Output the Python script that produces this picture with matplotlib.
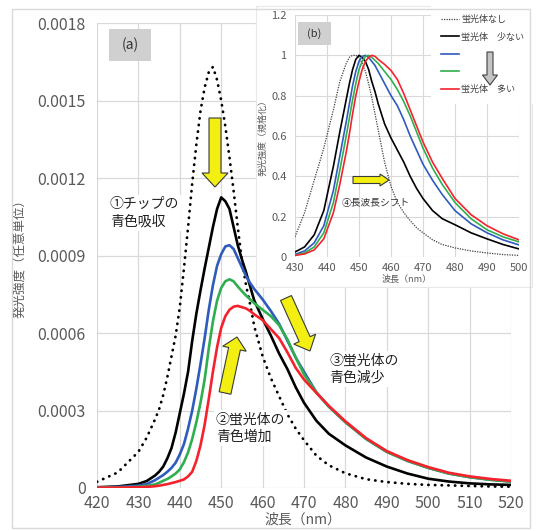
"""
Blue emission spectra vs phosphor amount: absolute (a) and normalized (b) inset.
"""

import matplotlib
matplotlib.use("Agg")
import matplotlib.pyplot as plt
import numpy as np
from matplotlib.patches import Polygon, Rectangle

plt.rcParams["font.family"] = ["Noto Sans CJK JP", "DejaVu Sans"]

W, H = 536, 531

# ---- panel (a): absolute intensity (x 1e-3) ----
wl_a = [420, 425, 430, 432, 434, 435, 436, 437, 438, 439, 440, 441, 442, 443,
        444, 445, 446, 447, 448, 449, 450, 451, 452, 453, 454, 455, 456, 457,
        458, 460, 462, 464, 466, 468, 470, 473, 476, 480, 485, 490, 495, 500,
        505, 510, 515, 520]

none_a = [0.024, 0.060, 0.140, 0.195, 0.265, 0.305, 0.360, 0.430, 0.510, 0.590,
          0.700, 0.850, 1.010, 1.180, 1.330, 1.460, 1.550, 1.610, 1.630, 1.580,
          1.500, 1.400, 1.280, 1.150, 1.010, 0.880, 0.785, 0.710, 0.625, 0.510,
          0.425, 0.355, 0.285, 0.230, 0.185, 0.125, 0.088, 0.057, 0.034, 0.023,
          0.016, 0.012, 0.010, 0.008, 0.006, 0.005]

low_a = [0.003, 0.006, 0.016, 0.027, 0.048, 0.063, 0.083, 0.115, 0.155, 0.215,
         0.290, 0.365, 0.450, 0.570, 0.675, 0.765, 0.850, 0.930, 1.010, 1.080,
         1.125, 1.110, 1.080, 1.010, 0.940, 0.885, 0.835, 0.780, 0.725, 0.655,
         0.590, 0.520, 0.460, 0.390, 0.330, 0.260, 0.210, 0.165, 0.118, 0.083,
         0.056, 0.036, 0.025, 0.018, 0.014, 0.012]

mid1_a = [0.002, 0.004, 0.009, 0.015, 0.030, 0.040, 0.050, 0.063, 0.078, 0.098,
          0.130, 0.170, 0.230, 0.300, 0.385, 0.480, 0.580, 0.690, 0.785, 0.860,
          0.905, 0.935, 0.940, 0.925, 0.890, 0.855, 0.820, 0.793, 0.770, 0.730,
          0.685, 0.635, 0.570, 0.505, 0.450, 0.370, 0.315, 0.255, 0.190, 0.140,
          0.105, 0.078, 0.056, 0.042, 0.032, 0.025]

mid2_a = [0.001, 0.002, 0.005, 0.008, 0.014, 0.020, 0.028, 0.035, 0.045, 0.056,
          0.072, 0.100, 0.138, 0.190, 0.255, 0.330, 0.420, 0.540, 0.645, 0.725,
          0.775, 0.800, 0.808, 0.800, 0.780, 0.762, 0.745, 0.730, 0.715, 0.690,
          0.665, 0.630, 0.575, 0.505, 0.440, 0.370, 0.315, 0.255, 0.190, 0.140,
          0.105, 0.078, 0.056, 0.042, 0.032, 0.025]

high_a = [0.001, 0.0015, 0.003, 0.004, 0.007, 0.009, 0.012, 0.015, 0.019, 0.023,
          0.028, 0.033, 0.045, 0.063, 0.105, 0.165, 0.245, 0.345, 0.450, 0.545,
          0.620, 0.665, 0.690, 0.702, 0.705, 0.700, 0.695, 0.685, 0.672, 0.650,
          0.615, 0.580, 0.525, 0.465, 0.420, 0.368, 0.318, 0.258, 0.193, 0.143,
          0.108, 0.081, 0.059, 0.045, 0.035, 0.028]

yticks_a = [0, 0.0003, 0.0006, 0.0009, 0.0012, 0.0015, 0.0018]
ylabels_a = ["0", "0.0003", "0.0006", "0.0009", "0.0012", "0.0015", "0.0018"]

# ---- panel (b): normalized ----
wl_b = [430, 433, 436, 439, 442, 444, 446, 447, 448, 449, 450, 451, 452, 453,
        454, 455, 456, 458, 460, 462, 464, 466, 468, 470, 473, 476, 480, 485,
        490, 495, 500]

none_b = [0.10, 0.22, 0.38, 0.54, 0.73, 0.87, 0.96, 0.99, 1.0, 1.0, 0.99, 0.96,
          0.92, 0.86, 0.79, 0.71, 0.63, 0.47, 0.35, 0.27, 0.22, 0.18, 0.145,
          0.12, 0.085, 0.062, 0.045, 0.03, 0.02, 0.012, 0.008]

low_b = [0.025, 0.05, 0.11, 0.23, 0.45, 0.62, 0.78, 0.86, 0.93, 0.98, 1.0, 0.99,
         0.97, 0.93, 0.87, 0.82, 0.76, 0.66, 0.59, 0.53, 0.47, 0.40, 0.34,
         0.29, 0.23, 0.19, 0.16, 0.12, 0.09, 0.062, 0.04]

mid1_b = [0.013, 0.03, 0.07, 0.155, 0.33, 0.50, 0.67, 0.76, 0.85, 0.92, 0.97,
          0.995, 1.0, 0.99, 0.97, 0.95, 0.92, 0.86, 0.80, 0.75, 0.68, 0.60,
          0.53, 0.46, 0.38, 0.31, 0.23, 0.165, 0.12, 0.085, 0.06]

mid2_b = [0.01, 0.02, 0.05, 0.12, 0.27, 0.43, 0.60, 0.69, 0.78, 0.86, 0.93,
          0.97, 0.995, 1.0, 0.99, 0.975, 0.96, 0.92, 0.88, 0.83, 0.77, 0.70,
          0.62, 0.54, 0.44, 0.36, 0.27, 0.19, 0.135, 0.10, 0.075]

high_b = [0.008, 0.015, 0.035, 0.09, 0.22, 0.36, 0.52, 0.61, 0.71, 0.80, 0.87,
          0.93, 0.97, 0.99, 1.0, 0.995, 0.98, 0.955, 0.925, 0.88, 0.81, 0.73,
          0.65, 0.57, 0.47, 0.39, 0.29, 0.21, 0.155, 0.115, 0.085]

legend_labels = ["蛍光体なし", "蛍光体　少ない", " ", " ", "蛍光体　多い"]

C_BLUE = "#2f5bbd"
C_GREEN = "#2fae4f"
C_RED = "#f5222d"
GRID = "#d9d9d9"
TXT = "#595959"


def fx(x):
    return x / W


def fy(y):
    return 1 - y / H


def arrow(fig, x0, y0, x1, y1, w, hw, hl, fc, ec="#3a3a3a"):
    """Block arrow drawn from pixel coords (origin top-left)."""
    dx, dy = x1 - x0, y1 - y0
    L = np.hypot(dx, dy)
    ux, uy = dx / L, dy / L
    nx, ny = -uy, ux
    bx, by = x1 - ux * hl, y1 - uy * hl
    pts = [
        (x0 + nx * w / 2, y0 + ny * w / 2),
        (bx + nx * w / 2, by + ny * w / 2),
        (bx + nx * hw / 2, by + ny * hw / 2),
        (x1, y1),
        (bx - nx * hw / 2, by - ny * hw / 2),
        (bx - nx * w / 2, by - ny * w / 2),
        (x0 - nx * w / 2, y0 - ny * w / 2),
    ]
    pts = [(fx(px), fy(py)) for px, py in pts]
    fig.patches.append(Polygon(pts, closed=True, facecolor=fc, edgecolor=ec,
                               lw=0.8, transform=fig.transFigure, zorder=4))


fig = plt.figure(figsize=(W / 100, H / 100), dpi=100)

# main axes
ax = fig.add_axes([fx(97), fy(488), (511 - 97) / W, (488 - 23) / H], zorder=0)
scale = 1e-3
ax.plot(wl_a, np.array(none_a) * scale, color="black", lw=2.0,
        linestyle=(0, (0.1, 2.3)), dash_capstyle="round")
ax.plot(wl_a, np.array(low_a) * scale, color="black", lw=1.9)
ax.plot(wl_a, np.array(mid1_a) * scale, color=C_BLUE, lw=1.9)
ax.plot(wl_a, np.array(mid2_a) * scale, color=C_GREEN, lw=1.9)
ax.plot(wl_a, np.array(high_a) * scale, color=C_RED, lw=1.9)
ax.set_xlim(420, 520)
ax.set_ylim(0, 0.0018)
ax.set_xticks(range(420, 521, 10))
ax.set_yticks(yticks_a)
ax.set_yticklabels(ylabels_a)
ax.grid(True, color=GRID, lw=0.9)
ax.set_axisbelow(True)
for s in ax.spines.values():
    s.set_visible(False)
ax.tick_params(length=0, labelsize=11.5, colors=TXT)
ax.tick_params(axis="y", pad=8)
ax.tick_params(axis="x", pad=5)

fig.text(fx(21), fy(255), "発光強度（任意単位）", rotation=90, ha="center",
         va="center", fontsize=9, color=TXT)
fig.text(fx(303), fy(520), "波長（nm）", ha="center", va="center",
         fontsize=10, color=TXT)

# panel tag (a)
fig.patches.append(Rectangle((fx(109), fy(61)), 42 / W, 32 / H, facecolor="#d0d0d0",
                             edgecolor="none", transform=fig.transFigure, zorder=1))
fig.text(fx(130), fy(45), "(a)", ha="center", va="center", fontsize=10,
         color="#333333", zorder=2)

box = dict(facecolor="white", edgecolor="none", pad=1.5)
ax.text(fx(110), fy(213), "①チップの\n青色吸収", transform=fig.transFigure,
        ha="left", va="center", fontsize=10, color="#222222", linespacing=1.35,
        bbox=box, zorder=5)
ax.text(fx(216), fy(428), "②蛍光体の\n青色増加", transform=fig.transFigure,
        ha="left", va="center", fontsize=10, color="#222222", linespacing=1.35,
        bbox=box, zorder=5)
ax.text(fx(329), fy(369), "③蛍光体の\n青色減少", transform=fig.transFigure,
        ha="left", va="center", fontsize=10, color="#222222", linespacing=1.35,
        bbox=box, zorder=5)

# white backing of the inset
fig.patches.append(Rectangle((fx(256), fy(287)), (532 - 256) / W, (287 - 6) / H,
                             facecolor="white", edgecolor="#e8e8e8", lw=0.8,
                             transform=fig.transFigure, zorder=1))

# inset axes
axi = fig.add_axes([fx(295), fy(257), (519 - 295) / W, (257 - 15) / H], zorder=2)
l0, = axi.plot(wl_b, none_b, color="#404040", lw=0.9, linestyle=(0, (1, 1)))
l1, = axi.plot(wl_b, low_b, color="black", lw=1.2)
l2, = axi.plot(wl_b, mid1_b, color=C_BLUE, lw=1.2)
l3, = axi.plot(wl_b, mid2_b, color=C_GREEN, lw=1.2)
l4, = axi.plot(wl_b, high_b, color=C_RED, lw=1.2)
axi.set_xlim(430, 500)
axi.set_ylim(0, 1.2)
axi.set_xticks(range(430, 501, 10))
axi.set_yticks([0, 0.2, 0.4, 0.6, 0.8, 1.0, 1.2])
axi.set_yticklabels(["0", "0.2", "0.4", "0.6", "0.8", "1", "1.2"])
axi.grid(True, color=GRID, lw=0.8)
axi.set_axisbelow(True)
for s in axi.spines.values():
    s.set_visible(False)
axi.tick_params(length=0, labelsize=8, colors=TXT)
axi.tick_params(axis="y", pad=6)
axi.tick_params(axis="x", pad=4)

leg = axi.legend([l0, l1, l2, l3, l4], legend_labels, loc="upper left",
                 bbox_to_anchor=(fx(437), fy(11)), bbox_transform=fig.transFigure,
                 fontsize=6.5, frameon=True, fancybox=False, framealpha=1,
                 edgecolor="none", handlelength=2.0, handletextpad=0.28,
                 labelspacing=0.92, borderpad=0.43, borderaxespad=0)
leg.get_frame().set_boxstyle("square", pad=0.7)
for t in leg.get_texts():
    t.set_color("#404040")

fig.text(fx(263), fy(136), "発光強度（規格化）", rotation=90, ha="center",
         va="center", fontsize=6.5, color=TXT, zorder=3)
fig.text(fx(407), fy(279), "波長（nm）", ha="center", va="center",
         fontsize=6.5, color=TXT, zorder=3)

fig.patches.append(Rectangle((fx(298), fy(45)), 33 / W, 23 / H, facecolor="#d0d0d0",
                             edgecolor="none", transform=fig.transFigure, zorder=3))
fig.text(fx(314.5), fy(33.5), "(b)", ha="center", va="center", fontsize=8,
         color="#333333", zorder=4)
fig.text(fx(342), fy(203), "④長波長シフト", ha="left", va="center", fontsize=7,
         color="#333333", zorder=4)

# arrows
YEL = "#f3ef13"
arrow(fig, 215, 118, 215, 187, 12, 26, 14, YEL)
arrow(fig, 225, 393, 237, 337, 12, 24, 12, YEL)
arrow(fig, 286, 298, 310, 351, 12, 24, 13, YEL)
arrow(fig, 353, 180, 389, 180, 7, 12, 9, YEL)
arrow(fig, 490, 52, 490, 85, 6, 15, 10, "#c4c4c4", ec="#404040")

# outer frame
fig.patches.append(Rectangle((fx(12), fy(528)), (530 - 12) / W, (528 - 9) / H,
                             fill=False, edgecolor=GRID, lw=1,
                             transform=fig.transFigure, zorder=5))

fig.savefig("out.png", dpi=100)
